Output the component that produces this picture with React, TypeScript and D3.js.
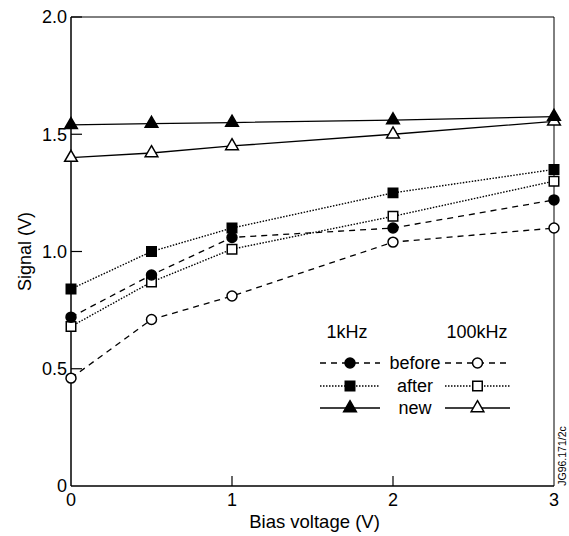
import React from "react";
import * as d3 from "d3";

// bias voltage (V)
const biasVoltage = [0, 0.5, 1, 2, 3];

// signal (V)
const before1k = [0.72, 0.9, 1.06, 1.1, 1.22];
const after1k = [0.84, 1.0, 1.1, 1.25, 1.35];
const new1k = [1.54, 1.545, 1.55, 1.56, 1.575];
const before100k = [0.46, 0.71, 0.81, 1.04, 1.1];
const after100k = [0.68, 0.87, 1.01, 1.15, 1.3];
const new100k = [1.4, 1.42, 1.45, 1.5, 1.555];

const xTicks = [0, 1, 2, 3];
const yTicks = [0, 0.5, 1.0, 1.5, 2.0];
const yTickLabels = ["0", "0.5", "1.0", "1.5", "2.0"];

const rowLabels = ["before", "after", "new"];
const freqLabels = ["1kHz", "100kHz"];

type Kind = "circle" | "square" | "triangle";

const series: { values: number[]; kind: Kind; filled: boolean; dash: string }[] = [
  { values: before100k, kind: "circle", filled: false, dash: "6,5" },
  { values: after100k, kind: "square", filled: false, dash: "1.5,1.5" },
  { values: new100k, kind: "triangle", filled: false, dash: "" },
  { values: before1k, kind: "circle", filled: true, dash: "6,5" },
  { values: after1k, kind: "square", filled: true, dash: "1.5,1.5" },
  { values: new1k, kind: "triangle", filled: true, dash: "" },
];

const font = "'Liberation Sans', Arial, Helvetica, sans-serif";

const symbolPath = (kind: Kind) => {
  if (kind === "circle") return d3.symbol(d3.symbolCircle, 78)()!;
  if (kind === "square") return d3.symbol(d3.symbolSquare, 90)()!;
  return d3.symbol(d3.symbolTriangle, 70)()!;
};

const Marker = ({ x, y, kind, filled }: { x: number; y: number; kind: Kind; filled: boolean }) => (
  <path
    d={symbolPath(kind)}
    transform={`translate(${x},${y})`}
    fill={filled ? "#000" : "#fff"}
    stroke="#000"
    strokeWidth={1.5}
  />
);

export default function App() {
  const width = 569;
  const height = 536;
  const left = 71;
  const right = 554;
  const top = 17;
  const bottom = 486;

  const x = d3.scaleLinear().domain([0, 3]).range([left, right]);
  const y = d3.scaleLinear().domain([0, 2]).range([bottom, top]);

  const line = (vals: number[]) =>
    d3
      .line<number>()
      .x((_, i) => x(biasVoltage[i]))
      .y((v) => y(v))(vals)!;

  // legend layout
  const legRows = [363, 386, 408];
  const leftLine = [320, 380];
  const rightLine = [445, 510];

  return (
    <svg width={width} height={height} style={{ position: "absolute", left: 0, top: 0 }}>
      <rect width={width} height={height} fill="#fff" />
      {/* frame */}
      <line x1={left} x2={right} y1={top} y2={top} stroke="#000" strokeWidth={1} />
      <line x1={right} x2={right} y1={top} y2={bottom} stroke="#000" strokeWidth={1} />
      <line x1={left} x2={left} y1={top} y2={bottom} stroke="#000" strokeWidth={1.5} />
      <line x1={left} x2={right} y1={bottom} y2={bottom} stroke="#000" strokeWidth={1.5} />

      {/* y ticks */}
      {yTicks.map((t, i) => (
        <g key={"y" + i}>
          {t > 0 && (
            <line x1={left} x2={left + 11} y1={y(t)} y2={y(t)} stroke="#000" strokeWidth={1.2} />
          )}
          <text
            x={left - 4}
            y={y(t)}
            dy="0.36em"
            textAnchor="end"
            fontFamily={font}
            fontSize={18}
          >
            {yTickLabels[i]}
          </text>
        </g>
      ))}

      {/* x ticks */}
      {xTicks.map((t) => (
        <g key={"x" + t}>
          {t > 0 && t < 3 && (
            <line x1={x(t)} x2={x(t)} y1={bottom} y2={bottom - 10} stroke="#000" strokeWidth={1.2} />
          )}
          <text x={x(t)} y={bottom + 20} textAnchor="middle" fontFamily={font} fontSize={18}>
            {t}
          </text>
        </g>
      ))}

      {/* axis titles */}
      <text x={(left + right) / 2 + 2} y={528} textAnchor="middle" fontFamily={font} fontSize={18.5}>
        Bias voltage (V)
      </text>
      <text
        transform={`translate(31,${(top + bottom) / 2}) rotate(-90)`}
        textAnchor="middle"
        fontFamily={font}
        fontSize={18}
      >
        Signal (V)
      </text>

      {/* series */}
      {series.map((s, si) => (
        <g key={"s" + si}>
          <path
            d={line(s.values)}
            fill="none"
            stroke="#000"
            strokeWidth={s.dash === "1.5,1.5" ? 1.4 : 1.3}
            strokeDasharray={s.dash || undefined}
          />
          {s.values.map((v, i) => (
            <Marker key={i} x={x(biasVoltage[i])} y={y(v)} kind={s.kind} filled={s.filled} />
          ))}
        </g>
      ))}

      {/* legend */}
      <text x={347} y={338} textAnchor="middle" fontFamily={font} fontSize={18}>
        {freqLabels[0]}
      </text>
      <text x={477} y={338} textAnchor="middle" fontFamily={font} fontSize={18}>
        {freqLabels[1]}
      </text>
      {rowLabels.map((lab, i) => {
        const s1 = series[i + 3];
        const s2 = series[i];
        const ry = legRows[i];
        return (
          <g key={lab}>
            <line
              x1={leftLine[0]}
              x2={leftLine[1]}
              y1={ry}
              y2={ry}
              stroke="#000"
              strokeWidth={1.3}
              strokeDasharray={s1.dash || undefined}
            />
            <Marker x={(leftLine[0] + leftLine[1]) / 2} y={ry} kind={s1.kind} filled={s1.filled} />
            <text x={415} y={ry + 6} textAnchor="middle" fontFamily={font} fontSize={18}>
              {lab}
            </text>
            <line
              x1={rightLine[0]}
              x2={rightLine[1]}
              y1={ry}
              y2={ry}
              stroke="#000"
              strokeWidth={1.3}
              strokeDasharray={s2.dash || undefined}
            />
            <Marker x={(rightLine[0] + rightLine[1]) / 2} y={ry} kind={s2.kind} filled={s2.filled} />
          </g>
        );
      })}

      {/* figure reference */}
      <text
        transform={`translate(566,456) rotate(-90)`}
        textAnchor="middle"
        fontFamily={font}
        fontSize={10.5}
      >
        JG96.171/2c
      </text>
    </svg>
  );
}
